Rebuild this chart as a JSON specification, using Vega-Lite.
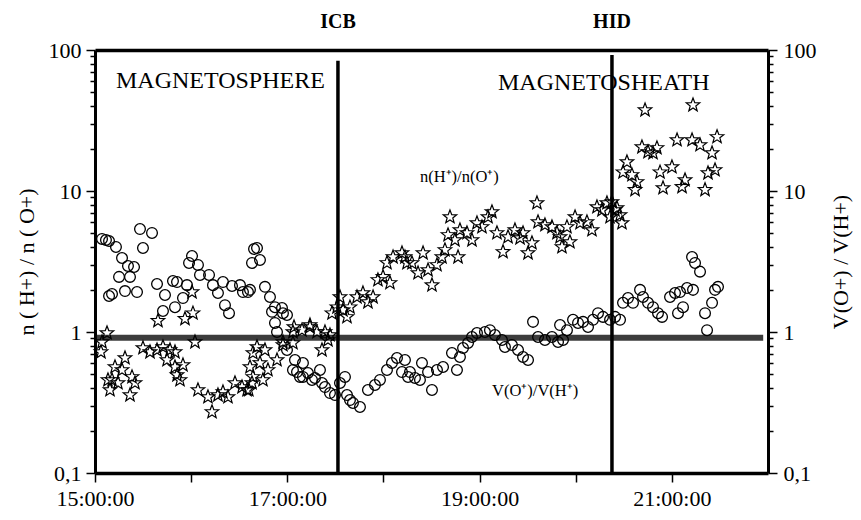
{
  "$schema": "https://vega.github.io/schema/vega-lite/v6.json",
  "width": 673,
  "height": 423,
  "autosize": {"type": "none"},
  "padding": {"left": 95, "top": 50, "right": 93, "bottom": 47},
  "background": "white",
  "config": {
    "view": {"stroke": null},
    "font": "Liberation Serif",
    "axis": {
      "labelFont": "Liberation Serif",
      "titleFont": "Liberation Serif",
      "labelFontSize": 22,
      "titleFontSize": 22,
      "titleFontWeight": "normal",
      "labelColor": "black",
      "titleColor": "black",
      "tickColor": "black",
      "domainColor": "black",
      "grid": false,
      "labelOverlap": false
    }
  },
  "datasets": {
    "circles": [
      {"t":15.073,"v":4.57},{"t":15.114,"v":4.49},{"t":15.146,"v":4.42},{"t":15.218,"v":4.01},{"t":15.468,"v":5.37},
      {"t":15.593,"v":5.04},{"t":15.499,"v":3.94},{"t":15.281,"v":3.35},{"t":15.343,"v":2.94},{"t":15.406,"v":2.89},
      {"t":15.25,"v":2.46},{"t":15.364,"v":2.46},{"t":15.146,"v":1.8},{"t":15.177,"v":1.86},{"t":15.312,"v":1.95},
      {"t":15.437,"v":1.92},{"t":15.645,"v":2.19},{"t":15.811,"v":2.3},{"t":15.853,"v":2.26},{"t":15.728,"v":1.83},
      {"t":15.915,"v":1.74},{"t":15.832,"v":1.5},{"t":15.707,"v":1.41},{"t":15.957,"v":2.15},{"t":16.009,"v":3.46},
      {"t":15.978,"v":3.09},{"t":16.071,"v":2.99},{"t":16.092,"v":2.54},{"t":16.186,"v":2.54},{"t":16.227,"v":2.15},
      {"t":16.279,"v":1.89},{"t":16.331,"v":2.26},{"t":16.425,"v":2.12},{"t":16.508,"v":2.15},{"t":16.539,"v":1.92},
      {"t":16.591,"v":1.92},{"t":16.352,"v":1.55},{"t":16.394,"v":1.36},{"t":16.654,"v":3.88},{"t":16.633,"v":3.09},
      {"t":16.685,"v":3.94},{"t":16.716,"v":3.24},{"t":16.612,"v":1.99},{"t":16.768,"v":2.09},{"t":16.82,"v":1.77},
      {"t":16.872,"v":1.5},{"t":16.945,"v":1.48},{"t":16.955,"v":1.36},{"t":16.997,"v":1.32},{"t":16.872,"v":1.16},
      {"t":16.893,"v":1.0},{"t":16.841,"v":1.39},{"t":16.997,"v":0.745},{"t":17.059,"v":0.538},{"t":17.132,"v":0.48},
      {"t":17.08,"v":0.633},{"t":17.163,"v":0.603},{"t":17.215,"v":0.512},{"t":17.288,"v":0.472},{"t":17.34,"v":0.538},
      {"t":17.361,"v":0.435},{"t":17.392,"v":0.407},{"t":17.444,"v":0.369},{"t":17.496,"v":0.357},{"t":17.101,"v":0.52},
      {"t":17.163,"v":0.48},{"t":17.257,"v":0.457},{"t":17.548,"v":0.435},{"t":17.6,"v":0.48},{"t":17.621,"v":0.357},
      {"t":17.652,"v":0.329},{"t":17.683,"v":0.314},{"t":17.756,"v":0.294},{"t":17.839,"v":0.388},{"t":17.912,"v":0.421},
      {"t":17.964,"v":0.457},{"t":18.037,"v":0.538},{"t":18.089,"v":0.603},{"t":18.141,"v":0.654},{"t":18.193,"v":0.52},
      {"t":18.256,"v":0.48},{"t":18.224,"v":0.633},{"t":18.276,"v":0.52},{"t":18.328,"v":0.472},{"t":18.38,"v":0.457},
      {"t":18.401,"v":0.603},{"t":18.464,"v":0.52},{"t":18.505,"v":0.388},{"t":18.557,"v":0.538},{"t":18.62,"v":0.565},
      {"t":18.765,"v":0.538},{"t":18.713,"v":0.71},{"t":18.796,"v":0.665},{"t":18.828,"v":0.77},{"t":18.88,"v":0.836},
      {"t":18.921,"v":0.922},{"t":18.973,"v":0.984},{"t":19.056,"v":1.0},{"t":19.108,"v":1.03},{"t":19.16,"v":0.952},
      {"t":19.233,"v":0.877},{"t":19.264,"v":0.783},{"t":19.337,"v":0.809},{"t":19.4,"v":0.745},{"t":19.452,"v":0.665},
      {"t":19.504,"v":0.633},{"t":19.556,"v":1.18},{"t":19.608,"v":0.922},{"t":19.68,"v":0.877},{"t":19.753,"v":0.922},
      {"t":19.816,"v":0.849},{"t":19.868,"v":0.877},{"t":19.837,"v":1.12},{"t":19.909,"v":1.03},{"t":19.972,"v":1.22},
      {"t":20.024,"v":1.16},{"t":20.076,"v":1.18},{"t":20.128,"v":1.085},{"t":20.18,"v":1.22},{"t":20.232,"v":1.36},
      {"t":20.284,"v":1.28},{"t":20.357,"v":1.22},{"t":20.409,"v":1.28},{"t":20.461,"v":1.22},{"t":20.492,"v":1.61},
      {"t":20.544,"v":1.74},{"t":20.596,"v":1.61},{"t":20.669,"v":1.99},{"t":20.7,"v":1.77},{"t":20.752,"v":1.61},
      {"t":20.804,"v":1.5},{"t":20.856,"v":1.36},{"t":20.898,"v":1.28},{"t":20.981,"v":1.77},{"t":21.033,"v":1.89},
      {"t":21.085,"v":1.92},{"t":21.158,"v":2.05},{"t":21.22,"v":1.99},{"t":21.064,"v":1.36},{"t":21.116,"v":1.5},
      {"t":21.21,"v":3.4},{"t":21.241,"v":3.09},{"t":21.293,"v":2.68},{"t":21.345,"v":1.36},{"t":21.366,"v":1.03},
      {"t":21.418,"v":1.61},{"t":21.449,"v":1.99},{"t":21.48,"v":2.09}
    ],
    "stars": [
      {"t":15.073,"v":0.849},{"t":15.062,"v":0.721},{"t":15.125,"v":0.984},{"t":15.312,"v":0.654},{"t":15.208,"v":0.565},
      {"t":15.281,"v":0.538},{"t":15.177,"v":0.457},{"t":15.156,"v":0.388},{"t":15.239,"v":0.435},{"t":15.385,"v":0.48},
      {"t":15.416,"v":0.435},{"t":15.364,"v":0.357},{"t":15.135,"v":0.457},{"t":15.499,"v":0.77},{"t":15.572,"v":0.721},
      {"t":15.645,"v":0.745},{"t":15.707,"v":0.783},{"t":15.78,"v":0.745},{"t":15.832,"v":0.721},{"t":15.749,"v":0.633},
      {"t":15.832,"v":0.565},{"t":15.915,"v":0.583},{"t":15.884,"v":0.457},{"t":15.853,"v":0.495},{"t":15.655,"v":1.2},
      {"t":15.936,"v":1.24},{"t":16.019,"v":1.36},{"t":16.009,"v":1.92},{"t":16.04,"v":0.849},{"t":16.071,"v":0.388},
      {"t":16.175,"v":0.346},{"t":16.217,"v":0.271},{"t":16.279,"v":0.357},{"t":16.331,"v":0.375},{"t":16.383,"v":0.346},
      {"t":16.456,"v":0.435},{"t":16.529,"v":0.407},{"t":16.581,"v":0.388},{"t":16.633,"v":0.435},{"t":16.612,"v":0.565},
      {"t":16.643,"v":0.71},{"t":16.685,"v":0.783},{"t":16.768,"v":0.745},{"t":16.716,"v":0.603},{"t":16.799,"v":0.538},
      {"t":16.893,"v":0.633},{"t":16.643,"v":0.48},{"t":16.747,"v":0.457},{"t":16.6,"v":0.388},{"t":17.059,"v":1.0},
      {"t":17.153,"v":1.03},{"t":17.236,"v":1.12},{"t":17.309,"v":1.0},{"t":17.392,"v":1.0},{"t":17.444,"v":0.952},
      {"t":17.361,"v":0.745},{"t":17.423,"v":0.877},{"t":16.955,"v":0.849},{"t":17.059,"v":0.836},{"t":17.07,"v":1.085},
      {"t":17.236,"v":1.085},{"t":16.955,"v":0.809},{"t":17.465,"v":1.36},{"t":17.517,"v":1.5},{"t":17.548,"v":1.77},
      {"t":17.621,"v":1.28},{"t":17.579,"v":1.43},{"t":17.652,"v":1.5},{"t":17.725,"v":1.77},{"t":17.787,"v":1.89},
      {"t":17.839,"v":1.63},{"t":17.892,"v":1.77},{"t":17.943,"v":2.34},{"t":17.996,"v":2.46},{"t":18.068,"v":2.23},
      {"t":18.037,"v":3.09},{"t":18.1,"v":3.4},{"t":18.193,"v":3.63},{"t":18.245,"v":3.09},{"t":18.224,"v":3.4},
      {"t":18.297,"v":3.09},{"t":18.36,"v":2.62},{"t":18.412,"v":3.63},{"t":18.464,"v":2.75},{"t":18.505,"v":2.15},
      {"t":18.557,"v":2.99},{"t":18.609,"v":3.4},{"t":18.64,"v":3.82},{"t":18.672,"v":4.88},{"t":18.692,"v":6.54},
      {"t":18.744,"v":4.49},{"t":18.776,"v":3.4},{"t":18.796,"v":5.29},{"t":18.869,"v":5.04},{"t":18.921,"v":4.49},
      {"t":18.973,"v":5.93},{"t":19.025,"v":5.56},{"t":19.088,"v":6.54},{"t":19.129,"v":7.1},{"t":19.181,"v":5.04},
      {"t":19.244,"v":3.7},{"t":19.296,"v":4.72},{"t":19.368,"v":5.29},{"t":19.421,"v":4.64},{"t":19.452,"v":5.04},
      {"t":19.504,"v":3.63},{"t":19.545,"v":4.28},{"t":19.597,"v":8.22},{"t":19.608,"v":6.03},{"t":19.68,"v":5.74},
      {"t":19.753,"v":5.56},{"t":19.805,"v":5.04},{"t":19.857,"v":4.01},{"t":19.837,"v":4.72},{"t":19.909,"v":5.56},
      {"t":19.94,"v":4.35},{"t":19.993,"v":6.54},{"t":20.045,"v":5.93},{"t":20.117,"v":6.03},{"t":20.169,"v":5.29},
      {"t":20.221,"v":7.7},{"t":20.273,"v":7.33},{"t":20.325,"v":8.22},{"t":20.377,"v":8.36},{"t":20.409,"v":7.33},
      {"t":20.429,"v":7.58},{"t":20.461,"v":6.76},{"t":20.481,"v":5.93},{"t":20.357,"v":6.54},{"t":20.533,"v":16.06},
      {"t":20.492,"v":13.6},{"t":20.585,"v":13.0},{"t":20.637,"v":11.6},{"t":20.617,"v":10.2},{"t":20.689,"v":20.5},
      {"t":20.752,"v":18.9},{"t":20.804,"v":18.6},{"t":20.845,"v":20.2},{"t":20.877,"v":13.6},{"t":21.001,"v":14.8},
      {"t":20.908,"v":10.5},{"t":21.054,"v":23.0},{"t":21.106,"v":10.7},{"t":21.137,"v":11.97},{"t":21.21,"v":23.0},
      {"t":21.293,"v":21.2},{"t":21.418,"v":18.6},{"t":21.376,"v":13.4},{"t":21.449,"v":14.1},{"t":21.345,"v":10.2},
      {"t":21.47,"v":24.2},{"t":20.721,"v":37.5},{"t":21.22,"v":40.7}
    ]
  },
  "layer": [
    {
      "data": {"values": [{"t0": 15.02, "t1": 21.95, "v": 0.91}]},
      "mark": {"type": "rule", "strokeWidth": 6, "color": "#3c3c3c"},
      "encoding": {
        "x": {
          "field": "t0", "type": "quantitative",
          "scale": {"domain": [15, 22], "nice": false, "zero": false},
          "axis": {
            "orient": "bottom", "title": null,
            "values": [15, 16, 17, 18, 19, 20, 21],
            "labelExpr": "datum.value % 2 == 1 ? datum.value + ':00:00' : ''",
            "tickSize": 9, "tickWidth": 1.5, "domainWidth": 3.5,
            "labelPadding": 6, "labelFlush": false
          }
        },
        "x2": {"field": "t1"},
        "y": {
          "field": "v", "type": "quantitative",
          "scale": {"type": "log", "domain": [0.1, 100], "nice": false},
          "axis": {
            "orient": "left",
            "title": "n ( H+) / n ( O+)",
            "values": [0.1,0.2,0.3,0.4,0.5,0.6,0.7,0.8,0.9,1,2,3,4,5,6,7,8,9,10,20,30,40,50,60,70,80,90,100],
            "labelExpr": "datum.value == 0.1 ? '0,1' : datum.value == 1 ? '1' : datum.value == 10 ? '10' : datum.value == 100 ? '100' : ''",
            "tickSize": {"condition": {"test": "datum.value == 0.1 || datum.value == 1 || datum.value == 10 || datum.value == 100", "value": 9}, "value": 5},
            "tickWidth": 1.5, "domainWidth": 3,
            "labelPadding": 5, "titlePadding": 10
          }
        }
      }
    },
    {
      "data": {"values": [{"t": 17.527, "v0": 84, "v1": 0.1}, {"t": 20.377, "v0": 92, "v1": 0.1}]},
      "mark": {"type": "rule", "strokeWidth": 3.5, "color": "black"},
      "encoding": {
        "x": {
          "field": "t", "type": "quantitative",
          "axis": {"orient": "top", "title": null, "labels": false, "ticks": false, "domainWidth": 3.5}
        },
        "y": {
          "field": "v0", "type": "quantitative",
          "axis": {
            "orient": "right",
            "title": "V(O+) / V(H+)",
            "titleAngle": -90,
            "values": [0.1,0.2,0.3,0.4,0.5,0.6,0.7,0.8,0.9,1,2,3,4,5,6,7,8,9,10,20,30,40,50,60,70,80,90,100],
            "labelExpr": "datum.value == 0.1 ? '0,1' : datum.value == 1 ? '1' : datum.value == 10 ? '10' : datum.value == 100 ? '100' : ''",
            "tickSize": {"condition": {"test": "datum.value == 0.1 || datum.value == 1 || datum.value == 10 || datum.value == 100", "value": 9}, "value": 5},
            "tickWidth": 1.5, "domainWidth": 3,
            "labelPadding": 6, "titlePadding": 36
          }
        },
        "y2": {"field": "v1"}
      }
    },
    {
      "data": {"name": "circles"},
      "mark": {"type": "point", "shape": "circle", "filled": false, "size": 115, "stroke": "black", "strokeWidth": 1.3, "opacity": 1},
      "encoding": {
        "x": {"field": "t", "type": "quantitative", "axis": null},
        "y": {"field": "v", "type": "quantitative", "axis": null}
      }
    },
    {
      "data": {"name": "stars"},
      "mark": {"type": "point", "shape": "M0,-1L0.25,-0.34L0.951,-0.309L0.4,0.13L0.588,0.809L0,0.42L-0.588,0.809L-0.4,0.13L-0.951,-0.309L-0.25,-0.34Z", "filled": false, "size": 200, "stroke": "black", "strokeWidth": 1.2, "opacity": 1},
      "encoding": {
        "x": {"field": "t", "type": "quantitative", "axis": null},
        "y": {"field": "v", "type": "quantitative", "axis": null}
      }
    },
    {
      "data": {"values": [{"t": 15.218, "v": 53.8, "label": "MAGNETOSPHERE"}, {"t": 19.192, "v": 52, "label": "MAGNETOSHEATH"}]},
      "mark": {"type": "text", "font": "Liberation Serif", "fontSize": 24, "align": "left", "baseline": "alphabetic", "color": "black"},
      "encoding": {
        "x": {"field": "t", "type": "quantitative", "axis": null},
        "y": {"field": "v", "type": "quantitative", "axis": null},
        "text": {"field": "label"}
      }
    },
    {
      "data": {"values": [{"t": 18.38, "v": 11.6, "label": "n(H⁺)/n(O⁺)"}, {"t": 19.129, "v": 0.352, "label": "V(O⁺)/V(H⁺)"}]},
      "mark": {"type": "text", "font": "Liberation Serif", "fontSize": 16.5, "align": "left", "baseline": "alphabetic", "color": "black"},
      "encoding": {
        "x": {"field": "t", "type": "quantitative", "axis": null},
        "y": {"field": "v", "type": "quantitative", "axis": null},
        "text": {"field": "label"}
      }
    },
    {
      "data": {"values": [{"t": 17.527, "v": 143, "label": "ICB"}, {"t": 20.377, "v": 143, "label": "HID"}]},
      "mark": {"type": "text", "font": "Liberation Serif", "fontSize": 20, "fontWeight": "bold", "align": "center", "baseline": "alphabetic", "color": "black"},
      "encoding": {
        "x": {"field": "t", "type": "quantitative", "axis": null},
        "y": {"field": "v", "type": "quantitative", "axis": null},
        "text": {"field": "label"}
      }
    }
  ],
  "resolve": {"scale": {"x": "shared", "y": "shared"}, "axis": {"x": "independent", "y": "independent"}}
}
